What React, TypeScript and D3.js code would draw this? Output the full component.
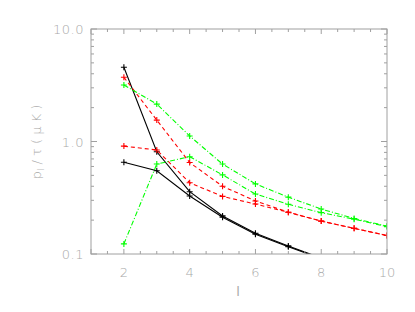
import React from "react";
import * as d3 from "d3";

const ells = [2, 3, 4, 5, 6, 7, 8, 9, 10];
const blackA = [4.57, 0.81, 0.358, 0.218, 0.153, 0.118, 0.092, 0.073, 0.059];
const blackB = [0.653, 0.55, 0.328, 0.212, 0.15, 0.116, 0.091, 0.072, 0.058];
const redA = [3.72, 1.55, 0.65, 0.4, 0.296, 0.235, 0.196, 0.169, 0.146];
const redB = [0.91, 0.84, 0.43, 0.325, 0.278, 0.235, 0.196, 0.169, 0.146];
const greenA = [3.18, 2.15, 1.12, 0.63, 0.42, 0.32, 0.251, 0.207, 0.177];
const greenB = [0.123, 0.63, 0.733, 0.505, 0.341, 0.277, 0.233, 0.204, 0.175];
const xTickLabels = [2, 4, 6, 8, 10];
const yTickLabels = ["0.1", "1.0", "10.0"];

const W = 415, H = 312;
const L = 91, R = 387, T = 29, B = 254;
const AX = "#a0a0a0";
const TXT = "#a8a8a8";
const FONT = "'DejaVu Sans', 'Liberation Sans', sans-serif";

export default function App() {
  const x = d3.scaleLinear().domain([1, 10]).range([L, R]);
  const y = d3.scaleLog().domain([0.1, 10]).range([B, T]);
  const line = d3.line<number>().x((_, i) => x(ells[i])).y((d) => y(d));

  const series = [
    { v: blackA, c: "#000", dash: undefined },
    { v: blackB, c: "#000", dash: undefined },
    { v: redA, c: "#ff0000", dash: "4,3" },
    { v: redB, c: "#ff0000", dash: "4,3" },
    { v: greenA, c: "#00ff00", dash: "5,2,1,2" },
    { v: greenB, c: "#00ff00", dash: "5,2,1,2" },
  ];

  const xMinor = d3.range(1, 10.01, 0.5);
  const yMinor: number[] = [];
  [0.1, 1].forEach((dec) => {
    for (let k = 2; k <= 9; k++) yMinor.push(dec * k);
  });
  const yMajor = [0.1, 1, 10];

  return (
    <svg width={W} height={H} style={{ position: "absolute", left: 0, top: 0 }}>
      <defs>
        <clipPath id="plot">
          <rect x={L} y={T} width={R - L} height={B - T} />
        </clipPath>
      </defs>
      <rect x={0} y={0} width={W} height={H} fill="#fff" />
      <g clipPath="url(#plot)">
        {series.map((s, i) => (
          <g key={i}>
            <path d={line(s.v) || ""} fill="none" stroke={s.c} strokeWidth={1.1} strokeDasharray={s.dash} />
            {s.v.map((d, j) => (
              <path
                key={j}
                d={`M${x(ells[j]) - 3},${y(d)}h6M${x(ells[j])},${y(d) - 3}v6`}
                stroke={s.c}
                strokeWidth={1.1}
              />
            ))}
          </g>
        ))}
      </g>
      <rect x={L} y={T} width={R - L} height={B - T} fill="none" stroke={AX} strokeWidth={1} />
      {xMinor.map((t, i) => {
        const major = xTickLabels.includes(t) || t === 1;
        const len = major ? 5 : 3;
        return (
          <g key={i} stroke={AX}>
            <line x1={x(t)} x2={x(t)} y1={B} y2={B - len} />
            <line x1={x(t)} x2={x(t)} y1={T} y2={T + len} />
          </g>
        );
      })}
      {yMinor.concat(yMajor).map((t, i) => {
        const len = yMajor.includes(t) ? 6 : 3;
        return (
          <g key={"y" + i} stroke={AX}>
            <line x1={L} x2={L + len} y1={y(t)} y2={y(t)} />
            <line x1={R} x2={R - len} y1={y(t)} y2={y(t)} />
          </g>
        );
      })}
      {xTickLabels.map((t) => (
        <text key={t} x={x(t)} y={B + 23} textAnchor="middle" fontFamily={FONT} fontSize={13} fill={TXT} fontWeight={300}>
          {t}
        </text>
      ))}
      {yMajor.map((t, i) => (
        <text key={t} x={L - 7} y={y(t) + 5} textAnchor="end" fontFamily={FONT} fontSize={13} fill={TXT} letterSpacing={0.5} fontWeight={300}>
          {yTickLabels[i]}
        </text>
      ))}
      <text x={238} y={296} textAnchor="middle" fontFamily={FONT} fontSize={13} fill={TXT}>
        l
      </text>
      <text
        transform={`translate(41,142) rotate(-90)`}
        textAnchor="middle"
        fontFamily={FONT}
        fontSize={13}
        fill={TXT}
        fontWeight={300}
      >
        p<tspan fontSize={9} dy={3}>l</tspan>
        <tspan dy={-3}> / τ  ( μ K )</tspan>
      </text>
    </svg>
  );
}
